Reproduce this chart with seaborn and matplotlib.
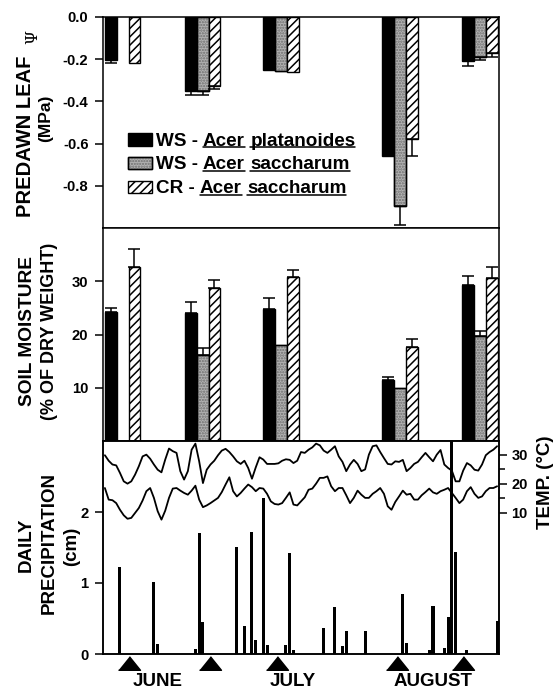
import numpy as np
import pandas as pd
import matplotlib
matplotlib.use('Agg')
import matplotlib.pyplot as plt
import matplotlib.transforms as mtransforms
from matplotlib.patches import Rectangle
from matplotlib.lines import Line2D
import seaborn as sns

sns.set_style('ticks', {'axes.edgecolor': 'black', 'xtick.color': 'black',
                        'ytick.color': 'black', 'text.color': 'black',
                        'axes.labelcolor': 'black'})
plt.rcParams['font.family'] = ['Liberation Sans', 'DejaVu Sans']
plt.rcParams['font.weight'] = 'bold'
plt.rcParams['axes.unicode_minus'] = False
plt.rcParams['hatch.linewidth'] = 1.1

# ---------------- data ----------------
legend_prefix = ['WS -', 'WS -', 'CR -']
legend_genus = ['Acer', 'Acer', 'Acer']
legend_species = ['platanoides', 'saccharum', 'saccharum']

months = ['JUNE', 'JULY', 'AUGUST']
month_mid_day = [15.1, 50.9, 88.0]
sample_day = [7.4, 28.9, 46.6, 78.5, 96.0]      # triangles
bar_day = [5.7, 26.9, 47.7, 79.3, 100.4]         # centre of each bar group

# predawn leaf water potential (MPa)
psi_ws_plat = [-0.205, -0.35, -0.25, -0.66, -0.21]
psi_ws_sacc = [np.nan, -0.35, -0.255, -0.895, -0.19]
psi_cr_sacc = [-0.22, -0.325, -0.26, -0.578, -0.17]
psi_err_ws_plat = [0.015, 0.02, 0.0, 0.0, 0.02]
psi_err_ws_sacc = [0.0, 0.02, 0.0, 0.09, 0.015]
psi_err_cr_sacc = [0.0, 0.015, 0.0, 0.08, 0.02]
psi_ticks = [0.0, -0.2, -0.4, -0.6, -0.8]
psi_tick_labels = ['0.0', '-0.2', '-0.4', '-0.6', '-0.8']

# soil moisture (% of dry weight)
soil_ws_plat = [24.3, 24.1, 24.8, 11.4, 29.3]
soil_ws_sacc = [np.nan, 16.2, 18.1, 9.9, 19.8]
soil_cr_sacc = [32.7, 28.8, 30.8, 17.7, 30.7]
soil_err_ws_plat = [0.7, 2.0, 2.0, 0.7, 1.6]
soil_err_ws_sacc = [0.0, 1.2, 0.0, 0.0, 0.8]
soil_err_cr_sacc = [3.3, 1.5, 1.3, 1.4, 1.9]
soil_ticks = [10, 20, 30]

# daily precipitation (cm)
rain_day = [5, 14, 15, 25, 26, 27, 36, 38, 40, 41, 43, 44, 49, 50, 51,
            59, 62, 64, 65, 70, 80, 81, 87, 88, 91, 92, 93, 94, 97, 105]
rain_cm = [1.23, 1.02, 0.14, 0.07, 1.71, 0.45, 1.51, 0.40, 1.72, 0.20, 2.20, 0.12, 0.12, 1.42, 0.05,
           0.37, 0.66, 0.11, 0.33, 0.33, 0.84, 0.15, 0.05, 0.67, 0.08, 0.52, 3.5, 1.43, 0.06, 0.47]
rain_ticks = [0, 1, 2]

# daily max / min air temperature (deg C), days 1..105
tmax = [29.9, 28.0, 26.7, 26.4, 23.8, 20.9, 20.1, 20.9, 23.2, 26.1,
        29.5, 30.1, 28.7, 26.7, 24.9, 24.0, 28.4, 32.2, 31.3, 30.7,
        24.4, 21.5, 24.4, 31.8, 33.9, 27.8, 20.3, 24.9, 26.7, 28.0,
        29.9, 31.5, 32.1, 31.0, 29.5, 27.8, 26.9, 28.0, 25.5, 21.8,
        25.7, 29.2, 28.4, 26.9, 26.9, 26.9, 27.1, 28.0, 28.5, 28.3,
        27.2, 28.0, 31.0, 30.7, 31.8, 32.6, 33.9, 33.3, 31.5, 30.7,
        31.8, 33.0, 29.5, 27.6, 24.4, 26.7, 28.3, 26.9, 24.4, 25.0,
        30.1, 33.0, 33.3, 31.0, 28.9, 26.9, 26.7, 27.8, 27.6, 28.3,
        24.4, 25.5, 26.9, 27.6, 29.2, 30.7, 29.2, 27.8, 30.1, 31.7,
        26.7, 25.5, 24.6, 20.9, 20.9, 24.6, 27.2, 26.4, 24.9, 24.6,
        26.7, 29.9, 31.0, 31.8, 33.0]
tmin = [18.6, 14.6, 14.4, 13.4, 11.1, 9.2, 8.0, 8.3, 10.0, 11.7,
        14.3, 17.5, 18.6, 15.2, 10.6, 7.7, 10.8, 15.2, 18.4, 18.6,
        17.7, 16.9, 16.3, 17.7, 19.4, 14.6, 12.0, 12.6, 13.4, 14.3,
        15.2, 17.2, 19.8, 22.3, 17.5, 15.7, 16.9, 18.4, 19.8, 18.9,
        17.5, 18.6, 18.4, 16.6, 14.0, 13.1, 12.9, 13.4, 15.2, 17.1,
        12.9, 12.6, 14.0, 15.4, 18.0, 18.4, 20.1, 22.1, 22.1, 22.6,
        19.2, 17.5, 18.6, 18.6, 16.1, 13.4, 15.2, 17.7, 16.3, 15.2,
        15.2, 16.6, 17.5, 18.6, 16.6, 12.3, 11.1, 13.8, 15.7, 17.7,
        16.3, 16.6, 14.6, 14.6, 16.1, 17.2, 18.4, 17.1, 16.6, 17.5,
        18.0, 18.6, 16.9, 15.2, 13.4, 14.6, 17.5, 18.9, 16.6, 15.2,
        15.7, 17.5, 18.6, 18.6, 19.2]
temp_ticks = [10, 20, 30]
temp_minor = [15, 25]

temps = pd.DataFrame({'day': np.arange(1, len(tmax) + 1), 'tmax': tmax, 'tmin': tmin})

# ---------------- figure ----------------
FW, FH = 554, 692
fig = plt.figure(figsize=(FW / 100, FH / 100), dpi=100)


def fx(x):
    return x / FW


def fy(y):
    return 1 - y / FH


L, Wd = fx(103), 396 / FW
ax1 = fig.add_axes([L, fy(228), Wd, 211 / FH])
ax2 = fig.add_axes([L, fy(441), Wd, 213 / FH], sharex=ax1)
ax3 = fig.add_axes([L, fy(654), Wd, 213 / FH], sharex=ax1)
ax3t = ax3.twinx()

GRAY = '#b3b3b3'
DOTS = '#6e6e6e'
bw = 3.15


def grouped_bars(ax, series, errs, upward):
    for k, (vals, err) in enumerate(zip(series, errs)):
        x = np.array(bar_day) + (k - 1) * bw
        v = np.array(vals, dtype=float)
        e = np.array(err, dtype=float)
        ok = ~np.isnan(v)
        if k == 0:
            ax.bar(x[ok], v[ok], width=bw, color='black', edgecolor='black', lw=1.0, zorder=2)
        elif k == 1:
            ax.bar(x[ok], v[ok], width=bw, color=GRAY, edgecolor='black', lw=1.0, zorder=2)
            ax.bar(x[ok], v[ok], width=bw, fill=False, hatch='......', edgecolor=DOTS, lw=0, zorder=2)
            ax.bar(x[ok], v[ok], width=bw, fill=False, edgecolor='black', lw=1.0, zorder=2)
        else:
            ax.bar(x[ok], v[ok], width=bw, color='white', hatch='////', edgecolor='black', lw=1.0, zorder=2)
        has = ok & (e > 0)
        zero = np.zeros(has.sum())
        yerr = [zero, e[has]] if upward else [e[has], zero]
        ax.errorbar(x[has], v[has], yerr=yerr, fmt='none', ecolor='black',
                    elinewidth=1.1, capsize=4.5, capthick=1.1, zorder=3)


grouped_bars(ax1, [psi_ws_plat, psi_ws_sacc, psi_cr_sacc],
             [psi_err_ws_plat, psi_err_ws_sacc, psi_err_cr_sacc], upward=False)
grouped_bars(ax2, [soil_ws_plat, soil_ws_sacc, soil_cr_sacc],
             [soil_err_ws_plat, soil_err_ws_sacc, soil_err_cr_sacc], upward=True)

ax3.bar(rain_day, rain_cm, width=0.8, color='black', lw=0, zorder=2)

sns.lineplot(data=temps, x='day', y='tmax', ax=ax3t, color='black', lw=1.3)
sns.lineplot(data=temps, x='day', y='tmin', ax=ax3t, color='black', lw=1.3)

ax1.set_xlim(0.5, 105.5)
ax1.set_ylim(-1.0, 0)
ax2.set_ylim(0, 40)
ax3.set_ylim(0, 3)
ax3t.set_ylim(-38.6, 34.8)

ax1.set_yticks(psi_ticks, psi_tick_labels)
ax2.set_yticks(soil_ticks, [str(t) for t in soil_ticks])
ax3.set_yticks(rain_ticks, [str(t) for t in rain_ticks])
ax3t.set_yticks(temp_ticks, [str(t) for t in temp_ticks])
ax3t.set_yticks(temp_minor, minor=True)

for ax in (ax1, ax2, ax3, ax3t):
    ax.set_xlabel('')
    ax.set_ylabel('')
    ax.tick_params(axis='x', bottom=False, top=False, labelbottom=False)
    for s in ax.spines.values():
        s.set_linewidth(1.1)
        s.set_color('black')
for ax in (ax1, ax2, ax3):
    ax.tick_params(axis='y', direction='out', length=5.5, width=1.1, pad=5,
                   labelsize=10.7, right=False)
ax3t.tick_params(axis='y', which='major', direction='out', length=6, width=1.1, pad=3,
                 labelsize=10.5)
ax3t.tick_params(axis='y', which='minor', direction='out', length=4.5, width=1.1)
for ax in (ax1, ax2, ax3, ax3t):
    for lab in ax.get_yticklabels():
        lab.set_fontweight('bold')

# sampling date triangles and month names
trans = mtransforms.blended_transform_factory(ax3.transData, ax3.transAxes)
tri = [(-1, -0.62), (1, -0.62), (0, 0.62)]
ax3.plot(sample_day, [-0.042] * len(sample_day), ls='none', marker=tri, ms=15.8,
         color='black', transform=trans, clip_on=False)
for m, d in zip(months, month_mid_day):
    ax3.text(d, -0.129, m, transform=trans, ha='center', va='center',
             fontsize=13.5, fontweight='bold')

# axis titles
fig.text(fx(25.5), fy(136), 'PREDAWN LEAF', rotation=90, ha='center', va='center',
         fontsize=14.5, fontweight='bold')
fig.text(fx(32.5), fy(36.5), 'Ψ', rotation=90, ha='center', va='center',
         fontsize=11.5, family='DejaVu Serif', fontweight='normal')
fig.text(fx(46), fy(118.5), '(MPa)', rotation=90, ha='center', va='center',
         fontsize=12.5, fontweight='bold')
fig.text(fx(28), fy(331), 'SOIL MOISTURE', rotation=90, ha='center', va='center',
         fontsize=13.8, fontweight='bold')
fig.text(fx(50), fy(331.5), '(% OF DRY WEIGHT)', rotation=90, ha='center', va='center',
         fontsize=13, fontweight='bold')
fig.text(fx(26), fy(545), 'DAILY', rotation=90, ha='center', va='center',
         fontsize=13.5, fontweight='bold')
fig.text(fx(49), fy(542.5), 'PRECIPITATION', rotation=90, ha='center', va='center',
         fontsize=13.5, fontweight='bold')
fig.text(fx(72), fy(546), '(cm)', rotation=90, ha='center', va='center',
         fontsize=13.5, fontweight='bold')
fig.text(fx(545), fy(482), 'TEMP. (°C)', rotation=90, ha='center', va='center',
         fontsize=13.5, fontweight='bold')

# legend with underlined names
LFS = 13.6
baselines = [145.5, 169, 193]
patch_styles = [dict(facecolor='black'), dict(facecolor=GRAY),
                dict(facecolor='white', hatch='////')]
underlined = []
for i in range(3):
    yb = baselines[i]
    fig.add_artist(Rectangle((fx(128), fy(yb)), 24 / FW, 12 / FH, transform=fig.transFigure,
                             edgecolor='black', lw=1.0, **patch_styles[i]))
    if i == 1:
        fig.add_artist(Rectangle((fx(128), fy(yb)), 24 / FW, 12 / FH, transform=fig.transFigure,
                                 fill=False, hatch='......', edgecolor=DOTS, lw=0))
        fig.add_artist(Rectangle((fx(128), fy(yb)), 24 / FW, 12 / FH, transform=fig.transFigure,
                                 fill=False, edgecolor='black', lw=1.0))
    t0 = fig.text(fx(155.5), fy(yb), legend_prefix[i], ha='left', va='baseline',
                  fontsize=LFS, fontweight='bold')
    t1 = ax1.annotate(legend_genus[i], xy=(1, 0), xycoords=t0, xytext=(3.9, 0),
                      textcoords='offset points', ha='left', va='bottom',
                      fontsize=LFS, fontweight='bold')
    t2 = ax1.annotate(legend_species[i], xy=(1, 0), xycoords=t1, xytext=(3.9, 0),
                      textcoords='offset points', ha='left', va='bottom',
                      fontsize=LFS, fontweight='bold')
    underlined += [(t1, yb), (t2, yb)]

fig.canvas.draw()
renderer = fig.canvas.get_renderer()
for t, yb in underlined:
    bb = t.get_window_extent(renderer)
    fig.add_artist(Line2D([bb.x0 / FW, bb.x1 / FW], [fy(yb + 1.8)] * 2,
                          transform=fig.transFigure, color='black', lw=1.1))

fig.savefig('out.png', dpi=100)
